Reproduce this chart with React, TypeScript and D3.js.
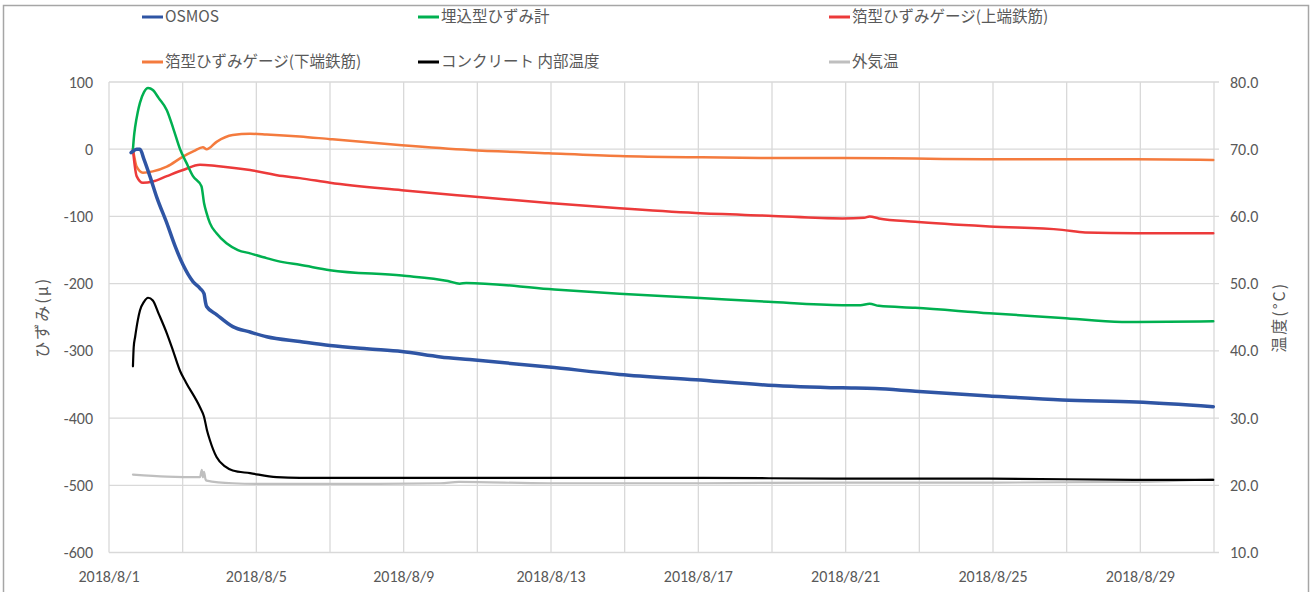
import React from "react";
import * as d3 from "d3";

// Elapsed days from 2018/8/1 00:00 and strain (μ) / temperature (°C)
const osmos: [number, number][] = [
  [0.6, -5], [0.65, -3], [0.75, 0], [0.84, 0], [0.95, -15], [1.11, -40], [1.3, -72], [1.57, -110],
  [1.8, -145], [2.01, -172], [2.28, -197], [2.47, -207], [2.58, -215], [2.62, -228], [2.65, -234],
  [2.92, -246], [3.36, -264], [3.83, -272], [4.28, -279], [5.18, -286], [6.0, -292], [7.0, -297],
  [7.95, -301], [9.0, -309], [9.79, -313], [11.94, -324], [13.86, -335], [15.93, -343], [17.9, -351],
  [19.91, -355], [20.8, -356], [21.89, -360], [23.9, -367], [25.88, -373], [27.89, -376], [29.98, -383],
];

const embedded: [number, number][] = [
  [0.65, 0], [0.68, 20], [0.71, 33], [0.78, 55], [0.84, 69], [0.95, 85], [1.06, 91], [1.19, 88],
  [1.35, 76], [1.57, 58], [1.75, 30], [1.93, 0], [2.1, -20], [2.28, -40], [2.51, -55], [2.58, -80],
  [2.65, -95], [2.74, -110], [2.92, -125], [3.19, -140], [3.5, -150], [3.83, -155], [4.28, -162],
  [4.72, -168], [5.18, -172], [6.0, -180], [7.95, -188], [9.2, -196], [9.52, -200], [9.7, -199],
  [11.94, -208], [13.86, -215], [15.93, -221], [17.9, -227], [19.91, -232], [20.4, -232], [20.65, -230],
  [20.9, -233], [21.89, -236], [23.9, -244], [25.88, -251], [27.5, -257], [27.89, -257], [29.98, -256],
];

const foilTop: [number, number][] = [
  [0.65, 0], [0.7, -25], [0.75, -40], [0.92, -50], [1.19, -48], [1.57, -40], [2.01, -31], [2.47, -23],
  [2.92, -25], [3.83, -31], [4.72, -40], [5.18, -43], [6.0, -50], [7.95, -61], [9.79, -70],
  [11.94, -80], [13.86, -88], [15.93, -95], [17.9, -99], [19.91, -103], [20.5, -102], [20.65, -100],
  [20.9, -103], [21.89, -108], [23.9, -115], [25.88, -120], [26.5, -124], [27.89, -125], [29.98, -125],
];

const foilBottom: [number, number][] = [
  [0.65, 0], [0.7, -15], [0.75, -26], [0.92, -35], [1.19, -33], [1.57, -26], [2.01, -11], [2.3, -3],
  [2.55, 3], [2.65, 0], [2.92, 11], [3.36, 21], [3.83, 23], [4.28, 22], [5.18, 19], [6.0, 15],
  [7.95, 6], [9.79, -1], [11.94, -6], [13.86, -10], [15.93, -12], [17.9, -13], [19.91, -13],
  [21.89, -14], [23.9, -15], [25.88, -15], [27.89, -15], [29.98, -16],
];

const concreteTemp: [number, number][] = [
  [0.65, 37.7], [0.67, 40.5], [0.71, 42.1], [0.78, 44.5], [0.84, 46.0], [0.95, 47.3], [1.06, 47.9],
  [1.19, 47.5], [1.35, 45.5], [1.57, 42.6], [1.74, 40.0], [1.93, 37.0], [2.09, 35.3], [2.47, 31.6],
  [2.58, 30.2], [2.66, 28.2], [2.74, 26.7], [2.92, 24.2], [3.15, 22.8], [3.36, 22.2], [3.83, 21.8],
  [4.55, 21.2], [5.18, 21.1], [7.95, 21.1], [11.94, 21.1], [15.93, 21.1], [19.91, 21.0],
  [23.9, 21.0], [27.89, 20.8], [29.98, 20.8],
];

const airTemp: [number, number][] = [
  [0.65, 21.6], [1.57, 21.3], [2.47, 21.2], [2.52, 22.3], [2.55, 21.2], [2.58, 22.0], [2.62, 20.9],
  [2.65, 20.7], [3.36, 20.3], [4.28, 20.2], [5.18, 20.2], [7.0, 20.2], [9.0, 20.3], [9.5, 20.5],
  [11.94, 20.3], [15.93, 20.3], [19.91, 20.4], [23.9, 20.4], [27.89, 20.5], [29.98, 20.9],
];

const xTickLabels = [
  "2018/8/1", "2018/8/5", "2018/8/9", "2018/8/13", "2018/8/17",
  "2018/8/21", "2018/8/25", "2018/8/29",
];
const strainTicks = [100, 0, -100, -200, -300, -400, -500, -600];
const tempTicks = [80, 70, 60, 50, 40, 30, 20, 10];

const W = 1314;
const H = 592;
const left = 109;
const right = 1214;
const top = 82;
const bottom = 552.5;

const x = d3.scaleLinear().domain([0, 30]).range([left, right]);
const yL = d3.scaleLinear().domain([-600, 100]).range([bottom, top]);
const yR = d3.scaleLinear().domain([10, 80]).range([bottom, top]);

const lineL = d3
  .line<[number, number]>()
  .x((d) => x(d[0]))
  .y((d) => yL(d[1]))
  .curve(d3.curveMonotoneX);
const lineR = d3
  .line<[number, number]>()
  .x((d) => x(d[0]))
  .y((d) => yR(d[1]))
  .curve(d3.curveMonotoneX);

const jp = "'Noto Sans CJK JP', 'Noto Sans', sans-serif";
const num = "Carlito, 'Open Sans', sans-serif";

const series = [
  { name: "OSMOS", color: "#2f55a4", width: 3.5, data: osmos, axis: "L" },
  { name: "埋込型ひずみ計", color: "#00b050", width: 2.5, data: embedded, axis: "L" },
  { name: "箔型ひずみゲージ(上端鉄筋)", color: "#ec3a3a", width: 2.5, data: foilTop, axis: "L" },
  { name: "箔型ひずみゲージ(下端鉄筋)", color: "#f47b3e", width: 2.5, data: foilBottom, axis: "L" },
  { name: "コンクリート 内部温度", color: "#000000", width: 2.2, data: concreteTemp, axis: "R" },
  { name: "外気温", color: "#bfbfbf", width: 2.2, data: airTemp, axis: "R" },
];

const legendCols = [142, 418, 829];
const legendRows = [17, 62];

export default function App() {
  const gridDays = d3.range(0, 31, 2);
  const drawOrder = [5, 4, 3, 2, 1, 0];
  return (
    <svg
      width={W}
      height={H}
      style={{ position: "absolute", left: 0, top: 0, background: "#fff" }}
    >
      <rect x={3.5} y={5.5} width={1305} height={600} fill="#fff" stroke="#a6a6a6" strokeWidth={1.5} />

      {/* grid */}
      {strainTicks.map((t) => (
        <line key={"h" + t} x1={left} x2={right + 5} y1={yL(t)} y2={yL(t)} stroke="#d9d9d9" strokeWidth={1.3} />
      ))}
      {gridDays.map((d) => (
        <line key={"v" + d} x1={x(d)} x2={x(d)} y1={top} y2={bottom} stroke="#d9d9d9" strokeWidth={1.3} />
      ))}

      {/* series */}
      {drawOrder.map((i) => {
        const s = series[i];
        const gen = s.axis === "L" ? lineL : lineR;
        return (
          <path
            key={s.name}
            d={gen(s.data) ?? ""}
            fill="none"
            stroke={s.color}
            strokeWidth={s.width}
            strokeLinejoin="round"
            strokeLinecap="round"
          />
        );
      })}

      {/* left axis labels */}
      {strainTicks.map((t) => (
        <text key={"l" + t} x={93} y={yL(t)} dy="0.35em" textAnchor="end" fontFamily={num} fontSize={16} fill="#595959">
          {t}
        </text>
      ))}
      {/* right axis labels */}
      {tempTicks.map((t) => (
        <text key={"r" + t} x={1230} y={yR(t)} dy="0.35em" textAnchor="start" fontFamily={num} fontSize={16} fill="#595959">
          {t.toFixed(1)}
        </text>
      ))}
      {/* x axis labels */}
      {xTickLabels.map((lab, i) => (
        <text key={lab} x={x(i * 4)} y={576} dy="0.35em" textAnchor="middle" fontFamily={num} fontSize={16} fill="#595959">
          {lab}
        </text>
      ))}

      {/* axis titles */}
      <text
        transform={`translate(42,${(top + bottom) / 2}) rotate(-90)`}
        textAnchor="middle"
        dy="0.35em"
        fontFamily={jp}
        fontSize={16}
        letterSpacing={2}
        fill="#595959"
      >
        ひずみ(μ)
      </text>
      <text
        transform={`translate(1279,${(top + bottom) / 2}) rotate(-90)`}
        textAnchor="middle"
        dy="0.35em"
        fontFamily={jp}
        fontSize={16}
        letterSpacing={2}
        fill="#595959"
      >
        温度(°C)
      </text>

      {/* legend */}
      {series.map((s, i) => {
        const lx = legendCols[i % 3];
        const ly = legendRows[Math.floor(i / 3)];
        return (
          <g key={"lg" + i}>
            <line x1={lx} x2={lx + 21} y1={ly} y2={ly} stroke={s.color} strokeWidth={3} />
            <text x={lx + 23} y={ly} dy="0.35em" fontFamily={jp} fontSize={15.5} fill="#595959">
              {s.name}
            </text>
          </g>
        );
      })}
    </svg>
  );
}
